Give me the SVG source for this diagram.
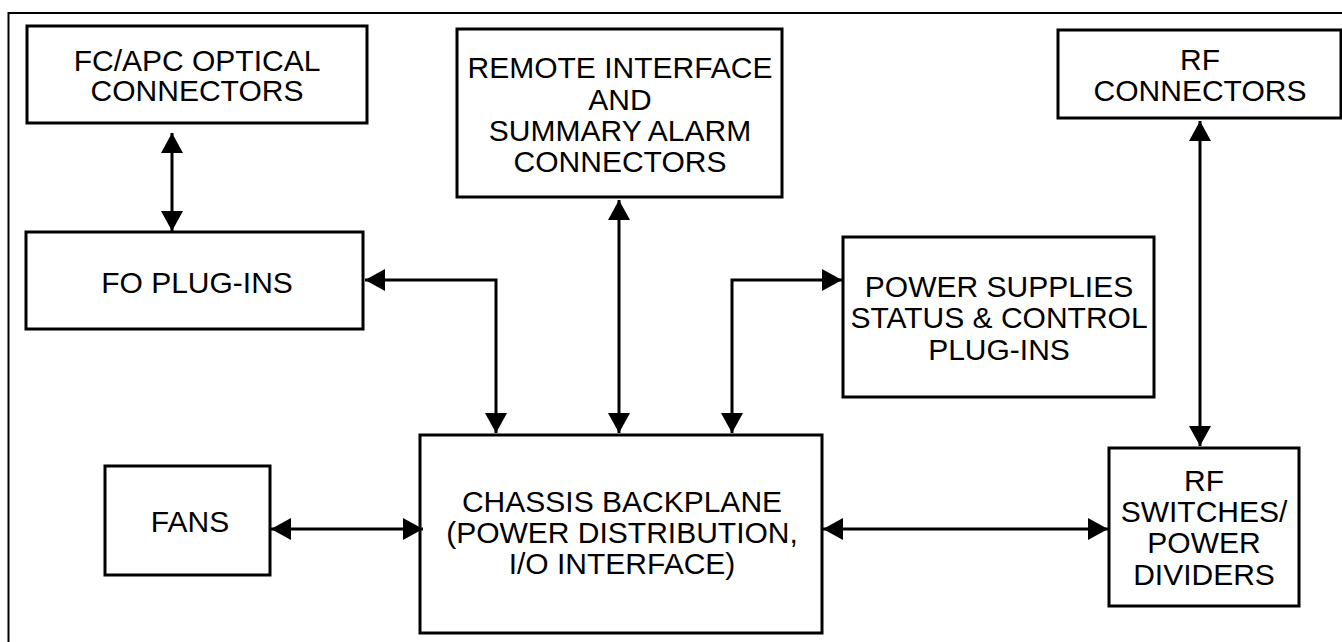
<svg xmlns="http://www.w3.org/2000/svg" width="1342" height="642" viewBox="0 0 1342 642">
  <style>
    .box { fill: #ffffff; stroke: #000000; stroke-width: 3; }
    .frame { fill: none; stroke: #000000; stroke-width: 2; }
    .lbl { font-family: "Liberation Sans", Arial, sans-serif; font-size: 30px; fill: #000000; text-anchor: middle; }
    .wire { fill: none; stroke: #000000; stroke-width: 3; }
  </style>
  <defs>
    <marker id="head" markerUnits="userSpaceOnUse" markerWidth="20" markerHeight="22" refX="20" refY="11" orient="auto-start-reverse" viewBox="0 0 20 22">
      <path d="M0,0 L20,11 L0,22 Z" fill="#000000"/>
    </marker>
  </defs>
  <rect width="1342" height="642" fill="#ffffff"/>
  <!-- outer frame -->
  <rect class="frame" x="8.5" y="13" width="1345" height="650"/>

  <g id="fcapc">
    <rect class="box" x="27" y="26" width="340" height="97"/>
    <text class="lbl" x="197" y="71">FC/APC OPTICAL</text>
    <text class="lbl" x="197" y="101">CONNECTORS</text>
  </g>

  <g id="fo-plugins">
    <rect class="box" x="26" y="232" width="337" height="97"/>
    <text class="lbl" x="197" y="293">FO PLUG-INS</text>
  </g>

  <g id="remote">
    <rect class="box" x="457" y="29" width="325" height="168"/>
    <text class="lbl" x="620" y="78">REMOTE INTERFACE</text>
    <text class="lbl" x="620" y="110">AND</text>
    <text class="lbl" x="620" y="141">SUMMARY ALARM</text>
    <text class="lbl" x="620" y="172">CONNECTORS</text>
  </g>

  <g id="power">
    <rect class="box" x="843" y="237" width="311" height="160"/>
    <text class="lbl" x="999" y="297">POWER SUPPLIES</text>
    <text class="lbl" x="999" y="328">STATUS &amp; CONTROL</text>
    <text class="lbl" x="999" y="360">PLUG-INS</text>
  </g>

  <g id="rf-connectors">
    <rect class="box" x="1058" y="30" width="283" height="88"/>
    <text class="lbl" x="1200" y="70">RF</text>
    <text class="lbl" x="1200" y="101">CONNECTORS</text>
  </g>

  <g id="rf-switches">
    <rect class="box" x="1109" y="448" width="190" height="158"/>
    <text class="lbl" x="1204" y="491">RF</text>
    <text class="lbl" x="1204" y="522">SWITCHES/</text>
    <text class="lbl" x="1204" y="553">POWER</text>
    <text class="lbl" x="1204" y="585">DIVIDERS</text>
  </g>

  <g id="fans">
    <rect class="box" x="105" y="466" width="165" height="109"/>
    <text class="lbl" x="190" y="532">FANS</text>
  </g>

  <g id="backplane">
    <rect class="box" x="420" y="435" width="402" height="198"/>
    <text class="lbl" x="622" y="512">CHASSIS BACKPLANE</text>
    <text class="lbl" x="622" y="543">(POWER DISTRIBUTION,</text>
    <text class="lbl" x="622" y="574">I/O INTERFACE)</text>
  </g>

  <g id="connectors">
    <path class="wire" d="M172,133 L172,231" marker-start="url(#head)" marker-end="url(#head)"/>
    <path class="wire" d="M365,280 L496,280 L496,433" marker-start="url(#head)" marker-end="url(#head)"/>
    <path class="wire" d="M619,200 L619,433" marker-start="url(#head)" marker-end="url(#head)"/>
    <path class="wire" d="M732,433 L732,280 L842,280" marker-start="url(#head)" marker-end="url(#head)"/>
    <path class="wire" d="M1200,121 L1200,446" marker-start="url(#head)" marker-end="url(#head)"/>
    <path class="wire" d="M271,529 L423,529" marker-start="url(#head)" marker-end="url(#head)"/>
    <path class="wire" d="M823,529 L1108,529" marker-start="url(#head)" marker-end="url(#head)"/>
  </g>
</svg>
